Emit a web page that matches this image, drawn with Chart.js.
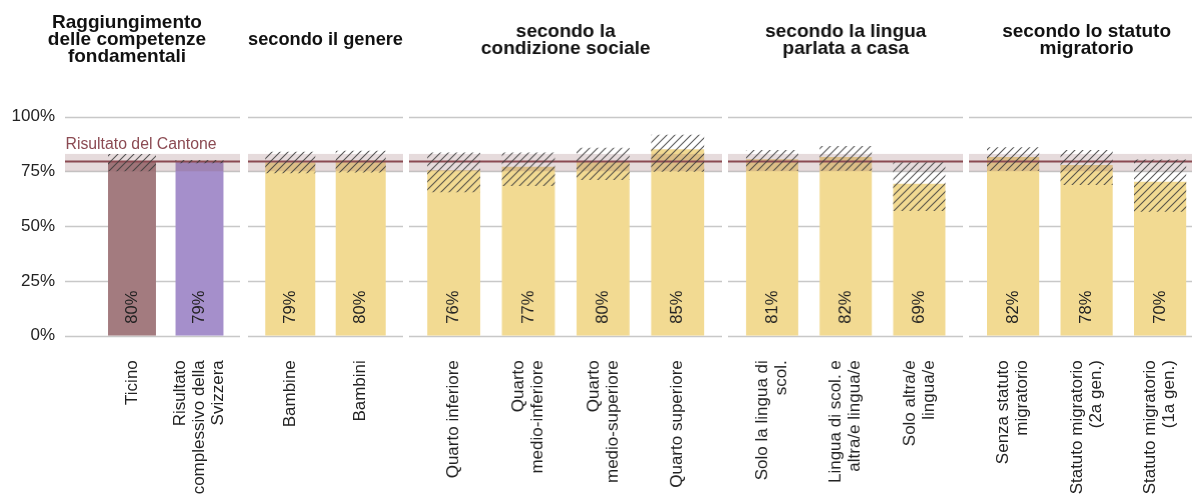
<!DOCTYPE html>
<html>
<head>
<meta charset="utf-8">
<title>Raggiungimento delle competenze fondamentali</title>
<script src="https://cdn.jsdelivr.net/npm/chart.js@4.4.1/dist/chart.umd.min.js"></script>
<style>
  html, body { margin: 0; padding: 0; background: #fff; overflow: hidden; }
  #wrap { position: relative; width: 1192px; height: 500px; overflow: hidden; }
  .panel { position: absolute; top: 0; height: 500px; }
</style>
</head>
<body>
<div id="wrap"></div>
<script>
// titoli dei pannelli
const titoli = [
  ['Raggiungimento', 'delle competenze', 'fondamentali'],
  ['secondo il genere'],
  ['secondo la', 'condizione sociale'],
  ['secondo la lingua', 'parlata a casa'],
  ['secondo lo statuto', 'migratorio']
];

// categorie
const catCompetenze = ['Ticino', ['Risultato', 'complessivo della', 'Svizzera']];
const catGenere = ['Bambine', 'Bambini'];
const catSociale = ['Quarto inferiore', ['Quarto', 'medio-inferiore'], ['Quarto', 'medio-superiore'], 'Quarto superiore'];
const catLingua = [['Solo la lingua di', 'scol.'], ['Lingua di scol. e', 'altra/e lingua/e'], ['Solo altra/e', 'lingua/e']];
const catMigrazione = [['Senza statuto', 'migratorio'], ['Statuto migratorio', '(2a gen.)'], ['Statuto migratorio', '(1a gen.)']];

// quota di allievi (%) e intervallo di confidenza
const valCompetenze = [79.6, 79.4];
const ciCompetenze = [[75.1, 83.0], [78.8, 80.2]];
const valGenere = [79.2, 80.0];
const ciGenere = [[74.2, 84.0], [74.5, 84.4]];
const valSociale = [75.6, 77.2, 79.8, 85.1];
const ciSociale = [[65.5, 83.7], [68.4, 83.7], [71.1, 85.8], [74.9, 91.8]];
const valLingua = [80.6, 81.6, 69.4];
const ciLingua = [[75.3, 84.8], [75.3, 86.6], [56.9, 79.2]];
const valMigrazione = [81.6, 77.9, 70.3];
const ciMigrazione = [[75.3, 86.0], [68.8, 84.8], [56.6, 80.5]];

// risultato del Cantone
const cantone = 79.5;
const cantoneCI = [75.1, 83.0];
const yTicks = [0, 25, 50, 75, 100];

const FONT = "'Liberation Sans', Arial, sans-serif";
Chart.defaults.font.family = FONT;
Chart.defaults.color = '#222';

const giallo = '#f2da92';
const panels = [
  { labels: catCompetenze, values: valCompetenze, ci: ciCompetenze, colors: ['#a37b7f', '#a58fcb'],
    left: 0, width: 254, padL: 0, padR: 20.75, extL: 33.25, extR: 6.75, showY: true },
  { labels: catGenere, values: valGenere, ci: ciGenere, colors: giallo,
    left: 248.3, width: 155, padL: 7.05, padR: 7.05, extL: 7.05, extR: 7.05 },
  { labels: catSociale, values: valSociale, ci: ciSociale, colors: giallo,
    left: 409.3, width: 312.4, padL: 7.44, padR: 7.44, extL: 7.44, extR: 7.44 },
  { labels: catLingua, values: valLingua, ci: ciLingua, colors: giallo,
    left: 728.3, width: 234.4, padL: 7.33, padR: 7.33, extL: 7.33, extR: 7.33 },
  { labels: catMigrazione, values: valMigrazione, ci: ciMigrazione, colors: giallo,
    left: 969.3, width: 235.2, padL: 7.35, padR: 7.35, extL: 7.35, extR: 7.35 }
];

function hatch(ctx) {
  const s = 8;
  const tile = document.createElement('canvas');
  tile.width = s; tile.height = s;
  const g = tile.getContext('2d');
  g.strokeStyle = 'rgba(60,60,60,0.85)';
  g.lineWidth = 1.1;
  g.beginPath();
  g.moveTo(0, s); g.lineTo(s, 0);
  g.moveTo(-s / 2, s / 2); g.lineTo(s / 2, -s / 2);
  g.moveTo(s / 2, s * 1.5); g.lineTo(s * 1.5, s / 2);
  g.stroke();
  return ctx.createPattern(tile, 'repeat');
}

// griglia, fascia del Cantone, etichette delle barre e dell'asse x
const panelPlugin = {
  id: 'panelDeco',
  beforeDatasetsDraw(chart, args, opts) {
    const { ctx, chartArea } = chart;
    const y = chart.scales.y;
    ctx.save();
    ctx.strokeStyle = '#c8c8c8';
    ctx.lineWidth = 1.5;
    y.ticks.forEach(t => {
      const py = Math.round(y.getPixelForValue(t.value)) + 0.5;
      ctx.beginPath();
      ctx.moveTo(chartArea.left - opts.extL, py);
      ctx.lineTo(chartArea.right + opts.extR, py);
      ctx.stroke();
    });
    ctx.restore();
  },
  afterDatasetDraw(chart, args, opts) {
    if (args.index !== 0) return;
    const { ctx, chartArea } = chart;
    const y = chart.scales.y;
    const x0 = chartArea.left - opts.extL;
    const x1 = chartArea.right + opts.extR;
    ctx.save();
    const top = y.getPixelForValue(cantoneCI[1]);
    const bot = y.getPixelForValue(cantoneCI[0]);
    ctx.fillStyle = 'rgba(140,90,96,0.22)';
    ctx.fillRect(x0, top, x1 - x0, bot - top);
    ctx.strokeStyle = '#8b4a52';
    ctx.lineWidth = 2;
    const py = y.getPixelForValue(cantone);
    ctx.beginPath();
    ctx.moveTo(x0, py);
    ctx.lineTo(x1, py);
    ctx.stroke();
    ctx.restore();
  },
  afterDatasetsDraw(chart, args, opts) {
    const { ctx } = chart;
    const y = chart.scales.y;
    const x = chart.scales.x;
    const meta = chart.getDatasetMeta(0);
    ctx.save();
    ctx.fillStyle = '#222';
    ctx.font = '16.5px ' + FONT;
    ctx.textAlign = 'left';
    ctx.textBaseline = 'middle';
    meta.data.forEach((bar, i) => {
      ctx.save();
      ctx.translate(bar.x, y.bottom - 12);
      ctx.rotate(-Math.PI / 2);
      ctx.fillText(Math.round(chart.data.datasets[0].data[i]) + '%', 0, 0);
      ctx.restore();
    });

    // etichette delle categorie, ruotate e centrate sulla barra
    ctx.font = '17px ' + FONT;
    ctx.textAlign = 'right';
    const lh = 19;
    chart.data.labels.forEach((lab, i) => {
      const lines = Array.isArray(lab) ? lab : [lab];
      ctx.save();
      ctx.translate(x.getPixelForTick(i), x.top + 24.5);
      ctx.rotate(-Math.PI / 2);
      lines.forEach((line, j) => {
        ctx.fillText(line, 0, (j - (lines.length - 1) / 2) * lh);
      });
      ctx.restore();
    });

    if (opts.showNote) {
      ctx.fillStyle = '#8b4a52';
      ctx.font = '15.8px ' + FONT;
      ctx.textAlign = 'left';
      ctx.textBaseline = 'alphabetic';
      ctx.fillText('Risultato del Cantone', chart.chartArea.left - opts.extL + 0.5, y.getPixelForValue(cantoneCI[1]) - 4.5);
    }
    ctx.restore();
  }
};

const wrap = document.getElementById('wrap');
panels.forEach((p, k) => {
  const div = document.createElement('div');
  div.className = 'panel';
  div.style.left = p.left + 'px';
  div.style.width = p.width + 'px';
  const canvas = document.createElement('canvas');
  div.appendChild(canvas);
  wrap.appendChild(div);

  const n = titoli[k].length;
  const padTop = 40 - n * 17 / 2;
  const padBottom = 116.7 - padTop - n * 17;

  new Chart(canvas, {
    type: 'bar',
    data: {
      labels: p.labels,
      datasets: [{
        data: p.values,
        backgroundColor: p.colors,
        barPercentage: 0.71,
        categoryPercentage: 1,
        order: 2
      }, {
        data: p.ci,
        backgroundColor: hatch(canvas.getContext('2d')),
        barPercentage: 0.71,
        categoryPercentage: 1,
        order: 1
      }]
    },
    options: {
      responsive: true,
      maintainAspectRatio: false,
      animation: false,
      layout: { padding: 0 },
      plugins: {
        legend: { display: false },
        tooltip: { enabled: false },
        title: {
          display: true,
          text: titoli[k],
          color: '#111',
          font: { size: 19, weight: 'bold', lineHeight: '17px' },
          padding: { top: padTop, bottom: padBottom }
        },
        panelDeco: { extL: p.extL, extR: p.extR, showNote: !!p.showY }
      },
      scales: {
        x: {
          stacked: true,
          grid: { display: false, drawTicks: false },
          border: { display: false },
          ticks: { display: false },
          afterFit(scale) {
            scale.height = 500 - 335.7;
            scale.paddingLeft = p.padL;
            scale.paddingRight = p.padR;
          }
        },
        y: {
          display: !!p.showY,
          stacked: false,
          min: 0,
          max: 100,
          grid: { display: false, drawTicks: false },
          border: { display: false },
          afterBuildTicks(scale) { scale.ticks = yTicks.map(v => ({ value: v })); },
          ticks: {
            padding: 43.25,
            color: '#222',
            font: { size: 17 },
            callback: v => v + '%'
          },
          afterFit(scale) { if (p.showY) scale.width = 98.25; }
        }
      }
    },
    plugins: [panelPlugin]
  });
});
</script>
</body>
</html>
